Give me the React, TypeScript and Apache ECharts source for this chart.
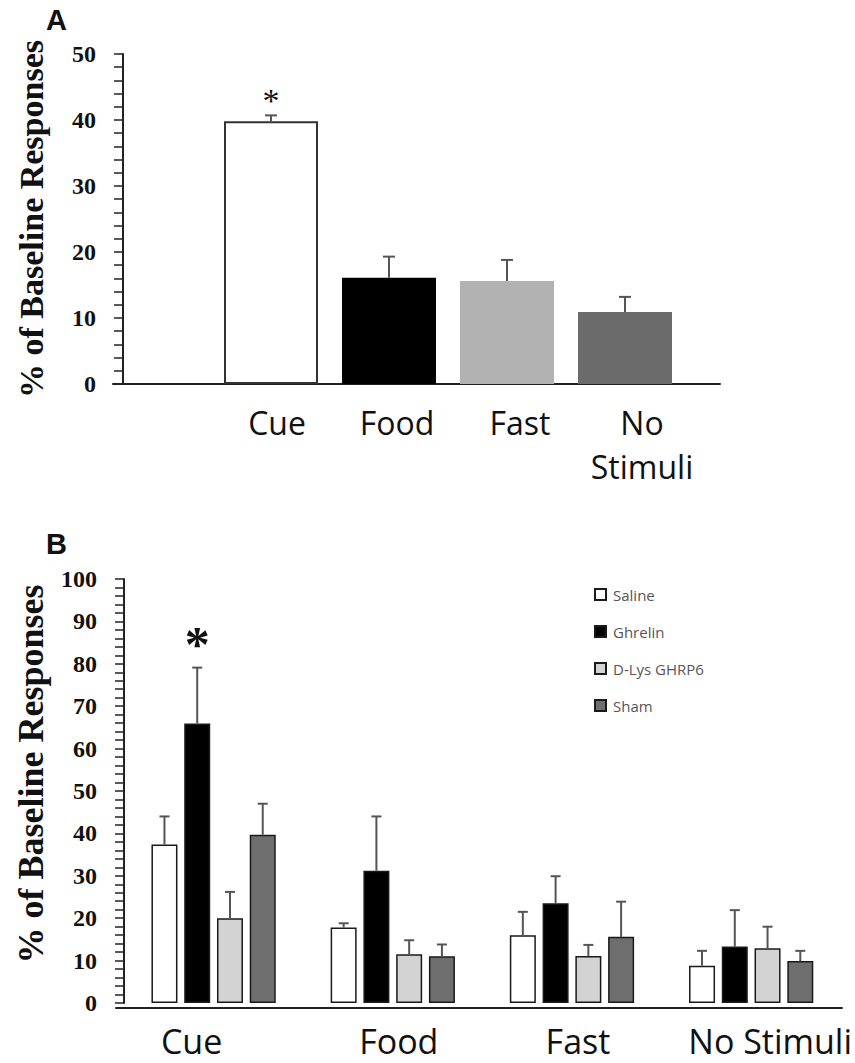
import React, { useEffect, useRef } from "react";
import * as echarts from "echarts";

// ---------- Panel A data ----------
const categoriesA = ["Cue", "Food", "Fast", "No\nStimuli"];
const valuesA = [39.8, 16.1, 15.6, 10.9];
const errorsA = [0.9, 3.2, 3.2, 2.3];
const marksA = ["*", "", "", ""];
const yTicksA = { min: 0, max: 50, interval: 10 };

// ---------- Panel B data ----------
const categoriesB = ["Cue", "Food", "Fast", "No Stimuli"];
const seriesNamesB = ["Saline", "Ghrelin", "D-Lys GHRP6", "Sham"];
const salineB = [37.4, 17.8, 16.0, 8.8];
const salineErrB = [6.6, 1.0, 5.5, 3.5];
const ghrelinB = [65.9, 31.2, 23.5, 13.3];
const ghrelinErrB = [13.2, 12.8, 6.4, 8.6];
const dlysB = [20.0, 11.5, 11.1, 12.9];
const dlysErrB = [6.2, 3.3, 2.6, 5.1];
const shamB = [39.7, 11.0, 15.6, 9.9];
const shamErrB = [7.3, 2.8, 8.3, 2.4];
const marksB = [["", "", "", ""], ["*", "", "", ""], ["", "", "", ""], ["", "", "", ""]];
const yTicksB = { min: 0, max: 100, interval: 10 };

// ---------- styles ----------
const SERIF = "'Liberation Serif', 'Times New Roman', serif";
const SANS = "'Open Sans', 'Noto Sans', sans-serif";
const colorsA = ["#ffffff", "#000000", "#b2b2b2", "#6b6b6b"];
const bordersA = [2, 0, 0, 0];
const colorsB = ["#ffffff", "#000000", "#d3d3d3", "#6e6e6e"];
const labelShiftA = [12, 16, 26, 34];
const labelShiftB = [-44, 12, 12, 38];
const BAR_W_B = 26;
const BAR_GAP_B = 0.26;

export default function App() {
  const ref = useRef<HTMLDivElement>(null);

  useEffect(() => {
    if (!ref.current) return;
    const chart = echarts.init(ref.current, null, { renderer: "svg" });

    const valsB = [salineB, ghrelinB, dlysB, shamB];
    const errsB = [salineErrB, ghrelinErrB, dlysErrB, shamErrB];

    const errDataA = valuesA.map((v, i) => [i, v, errorsA[i], 0]);
    const errDataB: number[][] = [];
    valsB.forEach((arr, s) =>
      arr.forEach((v, i) => errDataB.push([i, v, errsB[s][i], s]))
    );

    const axisLineStyle = { color: "#222", width: 2 };

    const yAxisCommon = (t: any, fontSize: number, nameGap: number, namePad: number[]) => ({
      type: "value",
      min: t.min,
      max: t.max,
      interval: t.interval,
      axisLine: { show: true, lineStyle: axisLineStyle },
      axisTick: { show: true, length: 9, lineStyle: { color: "#222", width: 1.5 } },
      minorTick: { show: true, splitNumber: 5, length: 9, lineStyle: { color: "#222", width: 1.5 } },
      splitLine: { show: false },
      minorSplitLine: { show: false },
      axisLabel: {
        fontFamily: SERIF,
        fontWeight: "bold",
        fontSize: 24,
        color: "#111",
        margin: 27,
      },
      name: "% of Baseline Responses",
      nameLocation: "middle",
      nameGap,
      nameTextStyle: {
        fontFamily: SERIF,
        fontWeight: "bold",
        fontSize,
        color: "#111",
        padding: namePad,
      },
    });

    const frameX = (gridIndex: number) => ({
      gridIndex,
      type: "value",
      min: 0,
      max: 1,
      axisLine: { show: true, lineStyle: axisLineStyle },
      axisTick: { show: false },
      axisLabel: { show: false },
      splitLine: { show: false },
    });
    const frameY = (gridIndex: number) => ({
      gridIndex,
      type: "value",
      min: 0,
      max: 1,
      show: false,
    });

    const errRender = (pitch: number, nSeries: number, capHalf: number, markFont: number, markBold: boolean, markGap: number, marks: string[][]) =>
      (params: any, api: any) => {
        const ci = api.value(0);
        const v = api.value(1);
        const e = api.value(2);
        const s = api.value(3);
        const dx = (s - (nSeries - 1) / 2) * pitch;
        const base = api.coord([ci, v]);
        const top = api.coord([ci, v + e]);
        const x = base[0] + dx;
        const lineStyle = { stroke: "#555", lineWidth: 2 };
        const children: any[] = [
          { type: "line", shape: { x1: x, y1: base[1], x2: x, y2: top[1] }, style: lineStyle },
          { type: "line", shape: { x1: x - capHalf, y1: top[1], x2: x + capHalf, y2: top[1] }, style: lineStyle },
        ];
        const m = marks[s] ? marks[s][ci] : "";
        if (m) {
          children.push({
            type: "text",
            x,
            y: top[1] - markGap,
            style: {
              text: m,
              fontSize: markFont,
              fontFamily: SERIF,
              fontWeight: markBold ? "bold" : "normal",
              fill: "#111",
              align: "center",
              verticalAlign: "middle",
            },
          });
        }
        return { type: "group", children };
      };

    const option: any = {
      animation: false,
      grid: [
        { left: 212, top: 54, width: 472, height: 330 },
        { left: 113, top: 54, width: 607, height: 330 },
        { left: 124, top: 579, width: 717, height: 429 },
        { left: 116, top: 579, width: 726, height: 429 },
      ],
      xAxis: [
        {
          gridIndex: 0,
          type: "category",
          data: categoriesA.map((c, i) => ({
            value: c,
            textStyle: { padding: labelShiftA[i] >= 0 ? [0, 0, 0, labelShiftA[i]] : [0, -labelShiftA[i], 0, 0] },
          })),
          axisLine: { show: false },
          axisTick: { show: false },
          axisLabel: {
            fontFamily: SANS,
            fontSize: 32,
            lineHeight: 44,
            color: "#111",
            margin: 16,
            interval: 0,
          },
        },
        frameX(1),
        {
          gridIndex: 2,
          type: "category",
          data: categoriesB.map((c, i) => ({
            value: c,
            textStyle: { padding: labelShiftB[i] >= 0 ? [0, 0, 0, labelShiftB[i]] : [0, -labelShiftB[i], 0, 0] },
          })),
          axisLine: { show: false },
          axisTick: { show: false },
          axisLabel: {
            fontFamily: SANS,
            fontSize: 34,
            lineHeight: 44,
            color: "#111",
            margin: 16,
            interval: 0,
          },
        },
        frameX(3),
      ],
      yAxis: [
        { gridIndex: 0, offset: 89, ...yAxisCommon(yTicksA, 34, 75, [0, 0, 0, 0]) },
        frameY(1),
        { gridIndex: 2, ...yAxisCommon(yTicksB, 36, 75, [0, 0, 0, 34]) },
        frameY(3),
      ],
      legend: {
        data: seriesNamesB,
        orient: "vertical",
        left: 589,
        top: 582,
        icon: "rect",
        itemWidth: 11,
        itemHeight: 11,
        itemGap: 22,
        textStyle: { fontFamily: SANS, fontSize: 15, color: "#555", padding: [0, 0, 0, 2] },
        selectedMode: false,
      },
      graphic: [
        { type: "text", left: 46, top: 5, style: { text: "A", fontFamily: "'Liberation Sans', Arial, sans-serif", fontWeight: "bold", fontSize: 29, fill: "#111" } },
        { type: "text", left: 46, top: 529, style: { text: "B", fontFamily: "'Liberation Sans', Arial, sans-serif", fontWeight: "bold", fontSize: 29, fill: "#111" } },
      ],
      series: [
        {
          type: "bar",
          xAxisIndex: 0,
          yAxisIndex: 0,
          barWidth: 94,
          data: valuesA.map((v, i) => ({
            value: v,
            itemStyle: { color: colorsA[i], borderColor: "#333", borderWidth: bordersA[i] },
          })),
          z: 2,
        },
        {
          type: "custom",
          xAxisIndex: 0,
          yAxisIndex: 0,
          renderItem: errRender(0, 1, 6, 34, false, 15, [marksA]),
          data: errDataA,
          z: 3,
        },
        ...seriesNamesB.map((name, s) => ({
          type: "bar",
          name,
          xAxisIndex: 2,
          yAxisIndex: 2,
          barWidth: BAR_W_B,
          barGap: BAR_GAP_B * 100 + "%",
          data: valsB[s],
          itemStyle: { color: colorsB[s], borderColor: "#1a1a1a", borderWidth: 1.5 },
          z: 2,
        })),
        {
          type: "custom",
          xAxisIndex: 2,
          yAxisIndex: 2,
          renderItem: errRender(BAR_W_B * (1 + BAR_GAP_B), 4, 5, 50, true, 24, marksB),
          data: errDataB,
          z: 3,
        },
      ],
    };

    chart.setOption(option);
    return () => chart.dispose();
  }, []);

  return (
    <div
      ref={ref}
      style={{ position: "fixed", left: 0, top: 0, width: 855, height: 1063, background: "#fff" }}
    />
  );
}
